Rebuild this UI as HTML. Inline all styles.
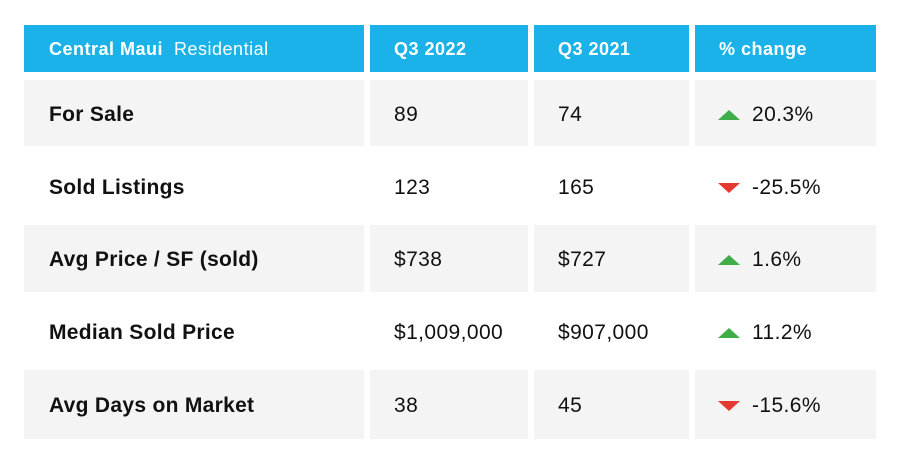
<!DOCTYPE html>
<html><head><style>
body{margin:0;width:900px;height:459px;background:#fff;font-family:"Liberation Sans",sans-serif;position:relative;overflow:hidden}
.c{position:absolute;box-sizing:border-box;display:flex;align-items:center;font-size:21px;letter-spacing:0.4px;color:#111;padding-top:3px}
.h{background:#1ab2e8;color:#fff;font-size:18px;font-weight:bold;letter-spacing:0.5px;padding-top:1px}
.g{background:#f4f4f4}
.b{font-weight:bold;letter-spacing:0.3px}
.up{width:0;height:0;border-left:11px solid transparent;border-right:11px solid transparent;border-bottom:10px solid #3fae49;margin-right:12px}
.dn{width:0;height:0;border-left:11px solid transparent;border-right:11px solid transparent;border-top:10px solid #e53a2f;margin-right:12px}
</style></head><body>
<div class="c h" style="left:24px;top:25px;width:340px;height:47px;padding-left:25px">Central Maui&nbsp;&nbsp;<span style="font-weight:normal">Residential</span></div>
<div class="c h" style="left:370px;top:25px;width:158px;height:47px;padding-left:24px">Q3 2022</div>
<div class="c h" style="left:534px;top:25px;width:155px;height:47px;padding-left:24px">Q3 2021</div>
<div class="c h" style="left:695px;top:25px;width:181px;height:47px;padding-left:24px">% change</div>

<div class="c g b" style="left:24px;top:80px;width:340px;height:66px;padding-left:25px">For Sale</div>
<div class="c g" style="left:370px;top:80px;width:158px;height:66px;padding-left:24px">89</div>
<div class="c g" style="left:534px;top:80px;width:155px;height:66px;padding-left:24px">74</div>
<div class="c g" style="left:695px;top:80px;width:181px;height:66px;padding-left:23px"><span class="up"></span>20.3%</div>

<div class="c b" style="left:24px;top:153px;width:340px;height:66px;padding-left:25px">Sold Listings</div>
<div class="c" style="left:370px;top:153px;width:158px;height:66px;padding-left:24px">123</div>
<div class="c" style="left:534px;top:153px;width:155px;height:66px;padding-left:24px">165</div>
<div class="c" style="left:695px;top:153px;width:181px;height:66px;padding-left:23px"><span class="dn"></span>-25.5%</div>

<div class="c g b" style="left:24px;top:225px;width:340px;height:67px;padding-left:25px">Avg Price / SF (sold)</div>
<div class="c g" style="left:370px;top:225px;width:158px;height:67px;padding-left:24px">$738</div>
<div class="c g" style="left:534px;top:225px;width:155px;height:67px;padding-left:24px">$727</div>
<div class="c g" style="left:695px;top:225px;width:181px;height:67px;padding-left:23px"><span class="up"></span>1.6%</div>

<div class="c b" style="left:24px;top:298px;width:340px;height:66px;padding-left:25px">Median Sold Price</div>
<div class="c" style="left:370px;top:298px;width:158px;height:66px;padding-left:24px">$1,009,000</div>
<div class="c" style="left:534px;top:298px;width:155px;height:66px;padding-left:24px">$907,000</div>
<div class="c" style="left:695px;top:298px;width:181px;height:66px;padding-left:23px"><span class="up"></span>11.2%</div>

<div class="c g b" style="left:24px;top:370px;width:340px;height:69px;padding-left:25px">Avg Days on Market</div>
<div class="c g" style="left:370px;top:370px;width:158px;height:69px;padding-left:24px">38</div>
<div class="c g" style="left:534px;top:370px;width:155px;height:69px;padding-left:24px">45</div>
<div class="c g" style="left:695px;top:370px;width:181px;height:69px;padding-left:23px"><span class="dn"></span>-15.6%</div>
</body></html>
